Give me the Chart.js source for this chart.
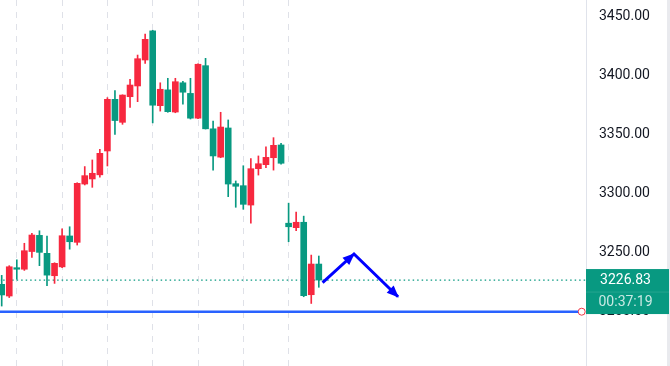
<!DOCTYPE html>
<html>
<head>
<meta charset="utf-8">
<script src="https://cdn.jsdelivr.net/npm/chart.js@4"></script>
<style>
  html, body { margin: 0; padding: 0; background: #fff; }
  #wrap { width: 670px; height: 366px; }
</style>
</head>
<body>
<div id="wrap"><canvas id="chart" width="670" height="366"></canvas></div>
<script>
// candles, oldest first
const opens  = [3223.2, 3213.3, 3237.3, 3236, 3251, 3264.7, 3249.5, 3230.5, 3238, 3264.2, 3258.8, 3308.2, 3312.5, 3316, 3336.2, 3380, 3360.5, 3382.2, 3391.3, 3413.3, 3438, 3374.6, 3388, 3369.2, 3394, 3385, 3364, 3408.5, 3355, 3331, 3355.7, 3308.5, 3306.8, 3290.4, 3321.2, 3324.6, 3330.5, 3341.3, 3275, 3271.2, 3275.8, 3214.4, 3240.4];
const closes = [3214.2, 3238.1, 3236, 3251.7, 3265, 3250.3, 3231, 3241, 3264.4, 3259.3, 3308.8, 3315.3, 3317.3, 3334.2, 3380, 3362, 3383.6, 3392.1, 3414.4, 3430.8, 3375, 3388.5, 3369.5, 3394.9, 3386, 3364, 3409.7, 3355, 3332, 3356.5, 3308.2, 3306.3, 3291, 3321.2, 3325.4, 3330.8, 3341, 3325.8, 3272, 3275.8, 3213.6, 3240.4, 3226.83];
const highs  = [3230.8, 3239, 3244, 3258, 3266.5, 3268.6, 3264, 3241.5, 3270.3, 3272, 3309.3, 3323, 3328.6, 3337.6, 3381.4, 3387.3, 3383.8, 3397, 3417.5, 3435.3, 3438.5, 3394, 3397.8, 3397.8, 3395.3, 3397.8, 3410, 3414.7, 3361.6, 3369, 3362.5, 3310.8, 3323.7, 3329.7, 3332, 3339.8, 3347.5, 3342.7, 3292, 3284.5, 3281, 3248, 3247.2];
const lows   = [3204.8, 3212, 3227.5, 3235, 3246, 3239, 3222, 3224, 3237.3, 3253, 3256.5, 3307.4, 3305.4, 3314, 3323.5, 3350.3, 3358.8, 3373.2, 3378, 3410.5, 3360, 3370, 3369, 3368.6, 3375.8, 3363.3, 3363.5, 3354.8, 3320, 3330.5, 3297.5, 3288.5, 3286.8, 3275, 3315.8, 3322, 3320, 3325, 3259.3, 3268.6, 3212.7, 3207, 3220.7];

const yTicks    = [3200, 3250, 3300, 3350, 3400, 3450];
const gridBars  = [2, 8, 14, 20, 26, 32, 38];   // bar indexes with a time gridline

// drawn annotations
const arrowX    = [42.5, 46.66, 52.5];
const arrowY    = [3224.6, 3248.9, 3212.7];
const levelX    = [-1, 76.35];
const levelY    = 3200;
const levelDotX = 76.82;
const countdown = '00:37:19';
const lastClose = closes[closes.length - 1];

const UP   = '#f7283f';
const DOWN = '#089981';
const FONT = 'Roboto, "Liberation Sans", Arial, sans-serif';

const idx    = closes.map((_, i) => i);
const colors = idx.map(i => closes[i] >= opens[i] ? UP : DOWN);

// arrow heads on the drawn path
const arrowHeads = {
  id: 'arrowHeads',
  afterDatasetsDraw(chart) {
    const pts = chart.getDatasetMeta(2).data;
    const ctx = chart.ctx;
    ctx.save();
    ctx.fillStyle = '#0000ff';
    for (let i = 1; i < pts.length; i++) {
      const a = pts[i - 1], b = pts[i];
      const ang = Math.atan2(b.y - a.y, b.x - a.x);
      const len = 11, half = 5;
      const cx = Math.cos(ang), sy = Math.sin(ang);
      ctx.beginPath();
      ctx.moveTo(b.x + cx, b.y + sy);
      ctx.lineTo(b.x - len * cx + half * sy, b.y - len * sy - half * cx);
      ctx.lineTo(b.x - len * cx - half * sy, b.y - len * sy + half * cx);
      ctx.closePath();
      ctx.fill();
    }
    ctx.restore();
  }
};

// last price tag on the price scale, plus the pane's right edge
const priceTag = {
  id: 'priceTag',
  afterDraw(chart) {
    const ctx = chart.ctx;
    const y   = chart.scales.y.getPixelForValue(lastClose);
    const x0  = chart.chartArea.right;
    const w   = chart.width - 1 - x0;
    ctx.save();
    ctx.fillStyle = '#e9eaee';
    ctx.fillRect(chart.width - 3, 0, 3, chart.height);
    ctx.fillStyle = DOWN;
    ctx.fillRect(x0, y - 11, w, 45);
    ctx.fillStyle = 'rgba(255,255,255,0.12)';
    ctx.fillRect(x0, y + 11.5, w, 1);
    ctx.font = '14px ' + FONT;
    ctx.textAlign = 'center';
    ctx.textBaseline = 'middle';
    ctx.fillStyle = '#ffffff';
    ctx.fillText(lastClose.toFixed(2), x0 + w / 2 - 2, y + 0.5);
    ctx.fillStyle = 'rgba(255,255,255,0.78)';
    ctx.fillText(countdown, x0 + w / 2 - 2, y + 22.5);
    ctx.restore();
  }
};

new Chart(document.getElementById('chart'), {
  type: 'bar',
  data: {
    datasets: [
      {
        label: 'body',
        data: idx.map(i => ({ x: i, y: [opens[i], closes[i]] })),
        backgroundColor: colors,
        borderWidth: 0,
        borderSkipped: false,
        barThickness: 6,
        grouped: false
      },
      {
        label: 'wick',
        data: idx.map(i => ({ x: i, y: [lows[i], highs[i]] })),
        backgroundColor: colors,
        borderWidth: 0,
        borderSkipped: false,
        barThickness: 1,
        grouped: false
      },
      {
        type: 'line',
        label: 'path',
        data: arrowX.map((x, i) => ({ x, y: arrowY[i] })),
        borderColor: '#0000ff',
        borderWidth: 3,
        pointRadius: 0,
        tension: 0
      },
      {
        type: 'line',
        label: 'last',
        data: [{ x: -1, y: lastClose }, { x: 80, y: lastClose }],
        borderColor: DOWN,
        borderWidth: 1.2,
        borderDash: [1.5, 3],
        pointRadius: 0
      },
      {
        type: 'line',
        label: 'level',
        data: levelX.map(x => ({ x, y: levelY })),
        borderColor: '#2962ff',
        borderWidth: 2.6,
        pointRadius: 0
      },
      {
        type: 'line',
        label: 'levelDot',
        data: [{ x: levelDotX, y: levelY }],
        showLine: false,
        pointRadius: 3.5,
        pointBorderWidth: 1,
        pointBackgroundColor: '#ffffff',
        pointBorderColor: '#f23645'
      }
    ]
  },
  options: {
    responsive: false,
    animation: false,
    layout: { padding: 0, autoPadding: false },
    plugins: {
      legend: { display: false },
      tooltip: { enabled: false }
    },
    scales: {
      x: {
        type: 'linear',
        offset: false,
        min: -0.225,
        max: 77.39,
        afterBuildTicks: s => { s.ticks = gridBars.map(v => ({ value: v })); },
        ticks: { display: false },
        grid: { color: '#dfe1e8', lineWidth: 1, drawTicks: false, offset: false },
        border: { display: false, dash: [6, 6] }
      },
      y: {
        position: 'right',
        min: 3154,
        max: 3464.15,
        afterBuildTicks: s => { s.ticks = yTicks.map(v => ({ value: v })); },
        afterFit: s => { s.width = 84; s.paddingTop = 0; s.paddingBottom = 0; },
        ticks: {
          padding: 13,
          color: '#131722',
          font: { family: FONT, size: 14 },
          callback: v => Number(v).toFixed(2)
        },
        grid: { display: false, drawTicks: false },
        border: { display: true, color: '#e0e3eb', width: 1 }
      }
    }
  },
  plugins: [arrowHeads, priceTag]
});
</script>
</body>
</html>
